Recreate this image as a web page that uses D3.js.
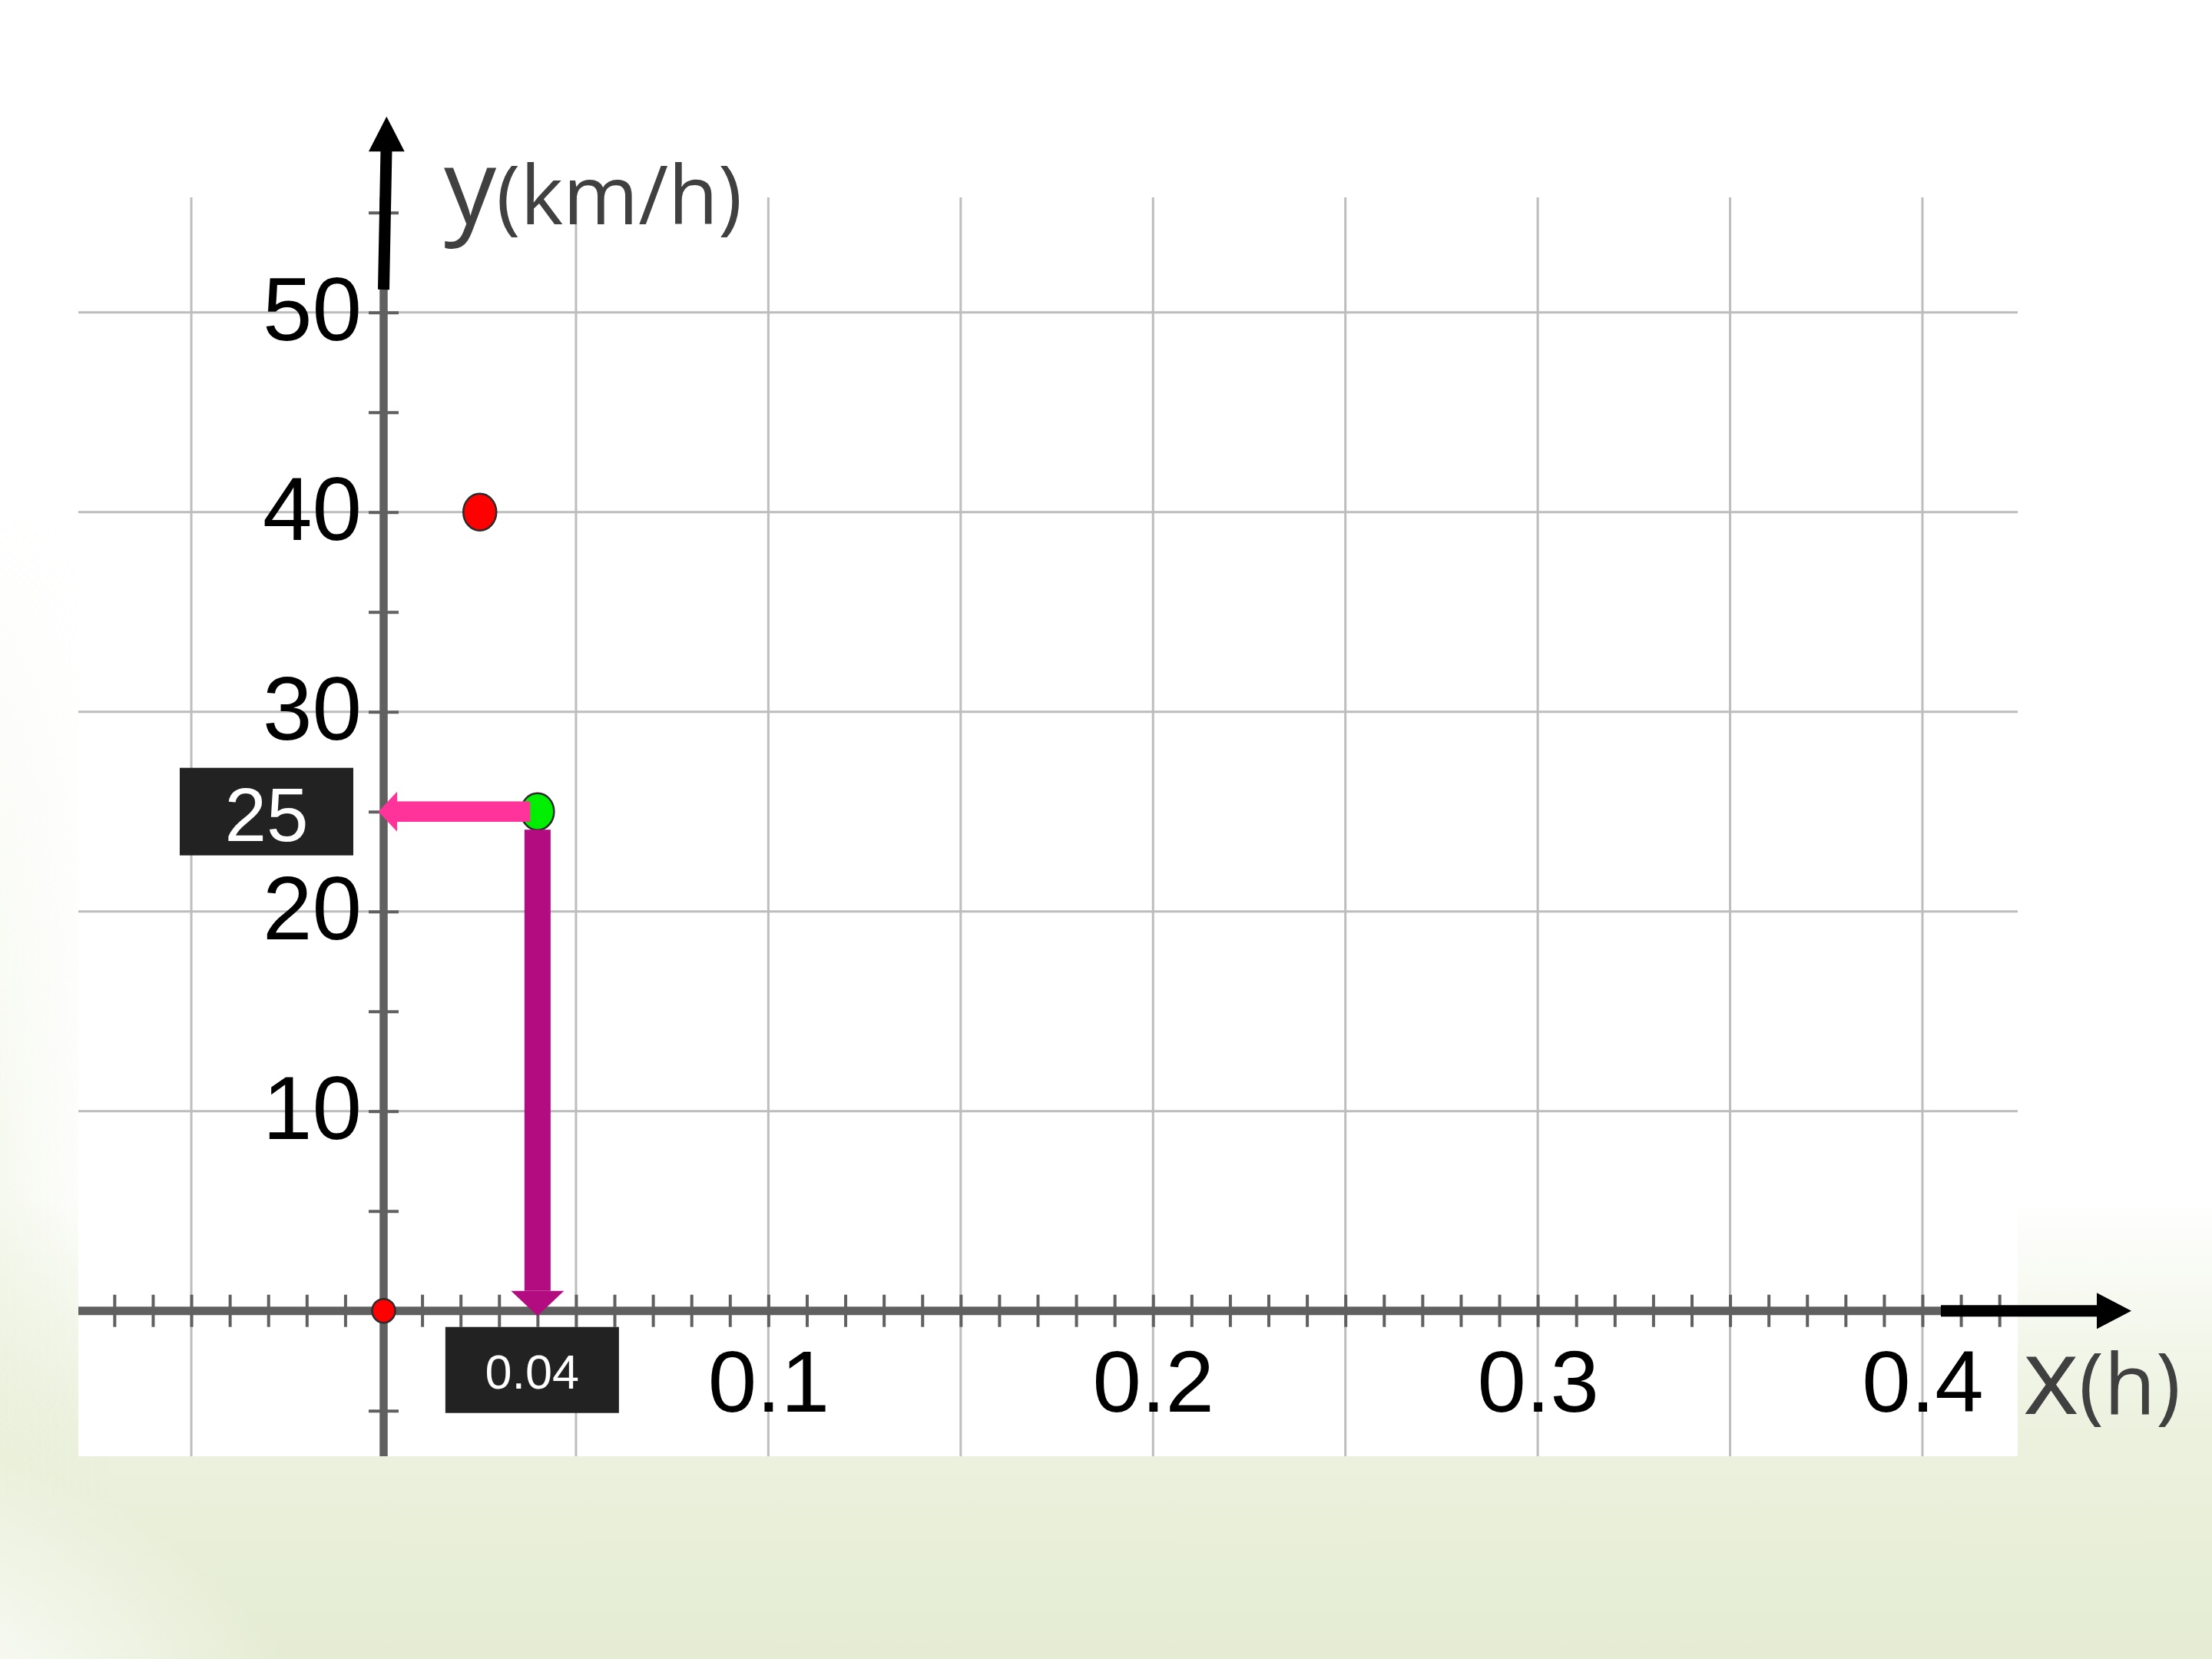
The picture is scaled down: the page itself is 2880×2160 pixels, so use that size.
<!DOCTYPE html>
<html><head><meta charset="utf-8">
<script src="https://cdn.jsdelivr.net/npm/d3@7"></script>
<style>html,body{margin:0;padding:0;background:#fff}svg{display:block}</style>
</head><body><svg id="c" width="2880" height="2160"></svg>
<script>
// ---- data ----
const xTickValues = [0.1, 0.2, 0.3, 0.4];
const xTickLabels = ["0.1", "0.2", "0.3", "0.4"];
const yTickValues = [10, 20, 30, 40, 50];
const yTickLabels = ["10", "20", "30", "40", "50"];
const xGridValues = [-0.05, 0.05, 0.1, 0.15, 0.2, 0.25, 0.3, 0.35, 0.4];
const yGridValues = [10, 20, 30, 40, 50];
const xMinorStep = 0.01, xMinorFrom = -0.07, xMinorTo = 0.42;
const yMinorValues = [-5, 0, 5, 10, 15, 20, 25, 30, 35, 40, 45, 50, 55];
const pointX = [0, 0.025, 0.04];
const pointY = [0, 40, 25];
const pointColor = ["#ff0000", "#ff0000", "#00ee00"];
const pointSize = ["small", "large", "large"];
const readX = 0.04, readY = 25;
const readXLabel = "0.04", readYLabel = "25";
const xTitle = ["x", "(h)"];
const yTitle = ["y", "(km/h)"];

// ---- layout ----
const W = 2880, H = 2160;
const frame = {left: 102, right: 2627, top: 257, bottom: 1896};
const x = d3.scaleLinear().domain([0, 0.4]).range([499.5, 2503]);
const y = d3.scaleLinear().domain([0, 50]).range([1706.7, 406.7]);
const x0 = x(0), y0 = y(0);
const svg = d3.select("#c");
const defs = svg.append("defs");

// background
const g1 = defs.append("linearGradient").attr("id","bottomG").attr("x1",0).attr("y1",0).attr("x2",0).attr("y2",1);
g1.append("stop").attr("offset",0).attr("stop-color","#e8efd8").attr("stop-opacity",0);
g1.append("stop").attr("offset",0.5).attr("stop-color","#e8efd8").attr("stop-opacity",0.85);
g1.append("stop").attr("offset",1).attr("stop-color","#e5ecd3").attr("stop-opacity",1);
const g2 = defs.append("radialGradient").attr("id","cornerG").attr("cx",0).attr("cy",1).attr("r",0.5);
g2.append("stop").attr("offset",0).attr("stop-color","#ffffff").attr("stop-opacity",1);
g2.append("stop").attr("offset",0.55).attr("stop-color","#ffffff").attr("stop-opacity",0.75);
g2.append("stop").attr("offset",1).attr("stop-color","#ffffff").attr("stop-opacity",0);
const g3 = defs.append("linearGradient").attr("id","leftG").attr("x1",0).attr("y1",0).attr("x2",1).attr("y2",0);
g3.append("stop").attr("offset",0).attr("stop-color","#e9f0d9").attr("stop-opacity",0.6);
g3.append("stop").attr("offset",1).attr("stop-color","#e9f0d9").attr("stop-opacity",0);
const g4 = defs.append("linearGradient").attr("id","leftV").attr("x1",0).attr("y1",0).attr("x2",0).attr("y2",1);
g4.append("stop").attr("offset",0).attr("stop-color","#fff").attr("stop-opacity",0);
g4.append("stop").attr("offset",1).attr("stop-color","#fff").attr("stop-opacity",1);
const lm = defs.append("mask").attr("id","leftMask");
lm.append("rect").attr("x",0).attr("y",650).attr("width",140).attr("height",1300).attr("fill","url(#leftV)");

svg.append("rect").attr("width",W).attr("height",H).attr("fill","#ffffff");
svg.append("rect").attr("x",0).attr("y",1560).attr("width",W).attr("height",H-1560).attr("fill","url(#bottomG)");
svg.append("rect").attr("x",0).attr("y",650).attr("width",140).attr("height",1300).attr("fill","url(#leftG)").attr("mask","url(#leftMask)");
svg.append("rect").attr("x",-300).attr("y",1300).attr("width",1500).attr("height",1100).attr("fill","url(#cornerG)");

// white plot sheet
svg.append("rect").attr("x",frame.left).attr("y",0).attr("width",frame.right-frame.left).attr("height",frame.bottom).attr("fill","#ffffff");

// grid
const grid = svg.append("g").attr("stroke","#bdbdbd").attr("stroke-width",3);
grid.selectAll(".vg").data(xGridValues).join("line")
  .attr("x1",d=>x(d)).attr("x2",d=>x(d)).attr("y1",frame.top).attr("y2",frame.bottom);
grid.selectAll(".hg").data(yGridValues).join("line")
  .attr("x1",frame.left).attr("x2",frame.right).attr("y1",d=>y(d)).attr("y2",d=>y(d));

// axis lines (gray)
svg.append("line").attr("x1",frame.left).attr("x2",2527).attr("y1",y0).attr("y2",y0)
  .attr("stroke","#606060").attr("stroke-width",11);
svg.append("line").attr("x1",x0).attr("x2",x0).attr("y1",frame.bottom).attr("y2",frame.top)
  .attr("stroke","#606060").attr("stroke-width",10.5);

// minor ticks via d3 axes
const xMinor = d3.range(Math.round(xMinorFrom/xMinorStep), Math.round(xMinorTo/xMinorStep)+1).map(i => +(i*xMinorStep).toFixed(2));
const xt = svg.append("g").attr("transform",`translate(0,${y0-21})`)
  .call(d3.axisBottom(x).tickValues(xMinor).tickSize(42).tickFormat(""));
xt.select(".domain").remove();
xt.selectAll("line").attr("stroke","#606060").attr("stroke-width",4);
const yt = svg.append("g").attr("transform",`translate(${x0-19.5},0)`)
  .call(d3.axisRight(y).tickValues(yMinorValues).tickSize(39).tickFormat(""));
yt.select(".domain").remove();
yt.selectAll("line").attr("stroke","#606060").attr("stroke-width",4);

// tick labels
const xl = svg.append("g").attr("transform",`translate(0,${y0})`)
  .call(d3.axisBottom(x).tickValues(xTickValues).tickSize(0).tickFormat((d,i)=>xTickLabels[i]));
xl.select(".domain").remove();
xl.selectAll("text").attr("y",131).attr("dy",0)
  .attr("font-family","'Liberation Sans', Arial, sans-serif").attr("font-size",114).attr("fill","#000");
const yl = svg.append("g").attr("transform",`translate(471,0)`)
  .call(d3.axisLeft(y).tickValues(yTickValues).tickSize(0).tickPadding(0).tickFormat((d,i)=>yTickLabels[i]));
yl.select(".domain").remove();
yl.selectAll("text").attr("x",0).attr("y",36).attr("dy",0)
  .attr("font-family","'Liberation Sans', Arial, sans-serif").attr("font-size",116).attr("fill","#000");

// black axis arrows
svg.append("line").attr("x1",2527).attr("x2",2732).attr("y1",y0).attr("y2",y0)
  .attr("stroke","#000").attr("stroke-width",15);
svg.append("polygon").attr("fill","#000")
  .attr("points",[[2730,y0-23.5],[2775,y0],[2730,y0+23.5]].join(" "));
svg.append("line").attr("x1",x0).attr("y1",377).attr("x2",x0+3.5).attr("y2",195)
  .attr("stroke","#000").attr("stroke-width",15);
svg.append("polygon").attr("fill","#000")
  .attr("points",[[x0-19.5,197.3],[x0+27.2,197.3],[x0+3.8,151.7]].join(" "));

// axis titles
const yT = svg.append("text").attr("x",578).attr("y",292)
  .attr("font-family","'Open Sans', sans-serif").attr("fill","#404040");
yT.append("tspan").attr("font-size",136).text(yTitle[0]);
yT.append("tspan").attr("font-size",106).text(yTitle[1]);
const xT = svg.append("text").attr("x",2634).attr("y",1841)
  .attr("font-family","'Open Sans', sans-serif").attr("fill","#404040");
xT.append("tspan").attr("font-size",139).text(xTitle[0]);
xT.append("tspan").attr("font-size",110).text(xTitle[1]);

// points
const pts = pointX.map((px,i)=>({x:px, y:pointY[i], c:pointColor[i], s:pointSize[i]}));
svg.selectAll(".pt").data(pts).join("ellipse")
  .attr("cx",d=>x(d.x)).attr("cy",d=>y(d.y))
  .attr("rx",d=>d.s==="small"?15:21.5).attr("ry",d=>d.s==="small"?15.5:24)
  .attr("fill",d=>d.c).attr("stroke","#2b2b2b").attr("stroke-width",2.5);

// reading arrows
const xr = x(readX), yr = y(readY);
svg.append("rect").attr("x",x0+17.5).attr("y",yr-13.3).attr("width",(xr-9.5)-(x0+17.5)).attr("height",26.6).attr("fill","#ff3399");
svg.append("polygon").attr("fill","#ff3399")
  .attr("points",[[x0+17.5,yr-26],[x0+17.5,yr+26],[x0-7,yr]].join(" "));
svg.append("rect").attr("x",xr-17).attr("y",yr+23.5).attr("width",34).attr("height",(y0-26)-(yr+23.5)).attr("fill","#b30b80");
svg.append("polygon").attr("fill","#b30b80")
  .attr("points",[[xr-34.5,y0-26],[xr+34.5,y0-26],[xr,y0+6.5]].join(" "));

// value boxes
svg.append("rect").attr("x",x0-265.5).attr("y",yr-57).attr("width",226).attr("height",114).attr("fill","#222222");
svg.append("text").attr("x",x0-152.5).attr("y",yr+38.5).attr("text-anchor","middle")
  .attr("font-family","'Liberation Sans', Arial, sans-serif").attr("font-size",98).attr("fill","#fff").text(readYLabel);
svg.append("rect").attr("x",xr-120).attr("y",y0+21).attr("width",226).attr("height",112).attr("fill","#222222");
svg.append("text").attr("x",xr-7).attr("y",y0+101).attr("text-anchor","middle")
  .attr("font-family","'Liberation Sans', Arial, sans-serif").attr("font-size",63).attr("fill","#fff").text(readXLabel);
</script>
</body></html>
